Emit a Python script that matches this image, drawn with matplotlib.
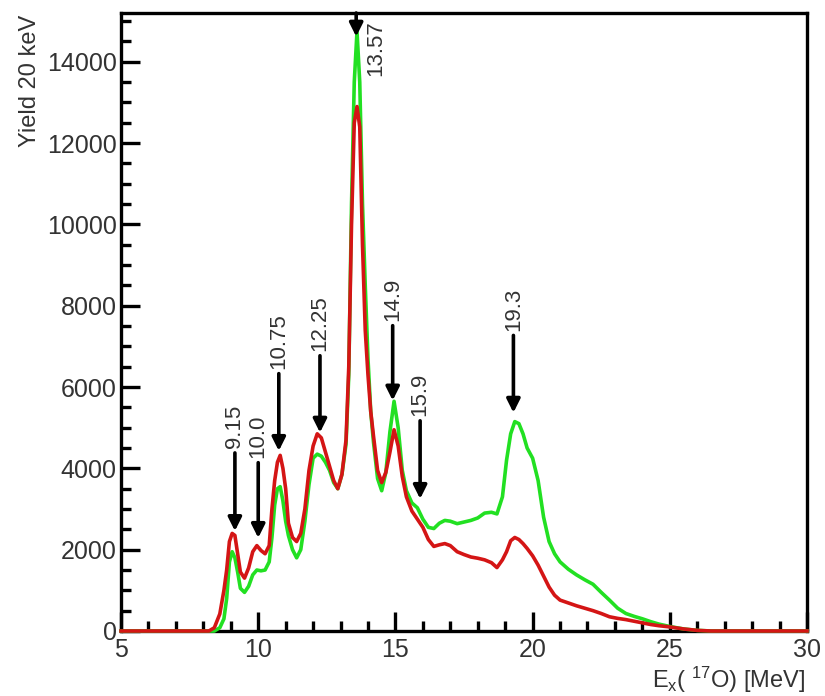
import matplotlib

matplotlib.use("Agg")
import matplotlib.pyplot as plt
from matplotlib.ticker import MultipleLocator

plt.rcParams["font.family"] = ["Liberation Sans", "DejaVu Sans"]
plt.rcParams["mathtext.default"] = "regular"

# excitation energy grid (MeV), shared by both spectra
ex_mev = [
    5.0, 8.2, 8.4, 8.6, 8.75, 8.85, 8.95, 9.05, 9.15, 9.25, 9.35, 9.5, 9.65, 9.8,
    9.95, 10.1, 10.25, 10.4, 10.5, 10.6, 10.7, 10.8, 10.9, 11.0, 11.1, 11.25,
    11.4, 11.55, 11.7, 11.85, 12.0, 12.15, 12.3, 12.45, 12.6, 12.75, 12.9,
    13.05, 13.2, 13.3, 13.4, 13.5, 13.6, 13.7, 13.8, 13.9, 14.0, 14.1, 14.2,
    14.35, 14.5, 14.65, 14.8, 14.95, 15.1, 15.25, 15.4, 15.6, 15.8, 16.0, 16.2,
    16.4, 16.6, 16.8, 17.0, 17.25, 17.5, 17.75, 18.0, 18.25, 18.5, 18.7, 18.9,
    19.05, 19.2, 19.35, 19.5, 19.65, 19.8, 20.0, 20.2, 20.4, 20.6, 20.8, 21.0,
    21.3, 21.6, 21.9, 22.2, 22.5, 22.8, 23.1, 23.4, 23.7, 24.0, 24.3, 24.6,
    25.0, 25.5, 26.0, 26.5, 30.0,
]

yield_green = [
    0, 0, 0, 80, 300, 800, 1700, 1950, 1800, 1450, 1050, 950, 1100, 1380,
    1500, 1480, 1500, 1700, 2300, 3100, 3500, 3550, 3200, 2700, 2350, 2000,
    1800, 2000, 2700, 3600, 4250, 4350, 4300, 4150, 3950, 3650, 3500,
    3850, 4600, 6300, 10500, 13500, 14750, 13500, 10500, 8500, 6700, 5400, 4650,
    3750, 3450, 3900, 4900, 5650, 5000, 3950, 3450, 3150, 3030, 2750, 2550,
    2520, 2650, 2720, 2700, 2640, 2680, 2720, 2780, 2900, 2920, 2880, 3300,
    4200, 4850, 5150, 5100, 4850, 4500, 4250, 3700, 2800, 2200, 1900, 1700,
    1520, 1380, 1260, 1150, 950, 760, 560, 430, 360, 300, 230, 170,
    110, 50, 15, 0, 0,
]

yield_red = [
    0, 0, 80, 420, 1000, 1500, 2200, 2400, 2350, 1900, 1450, 1300, 1550, 1950,
    2100, 1980, 1900, 2100, 3000, 3700, 4150, 4320, 4000, 3500, 2650, 2300,
    2200, 2400, 3000, 3950, 4550, 4850, 4750, 4400, 4050, 3700, 3500,
    3850, 4700, 6500, 10000, 12500, 12900, 12400, 9500, 7400, 6300, 5400, 4800,
    3950, 3650, 3900, 4400, 4950, 4550, 3800, 3300, 2950, 2750, 2550, 2250,
    2080, 2120, 2150, 2100, 1950, 1880, 1820, 1790, 1750, 1680, 1560, 1750,
    1950, 2220, 2300, 2250, 2150, 2030, 1850, 1620, 1350, 1080, 880, 760,
    690, 620, 560, 500, 430, 350, 310, 280, 240, 200, 160, 130,
    100, 50, 15, 0, 0,
]

# marked states: label, arrow tip and tail heights (counts)
state_labels = ["9.15", "10.0", "10.75", "12.25", "13.57", "14.9", "15.9", "19.3"]
arrow_tip = [2460, 2290, 4430, 4880, 14620, 5670, 3250, 5370]
arrow_tail = [4380, 4140, 6330, 6770, 15200, 7510, 5170, 7270]

TEXT = "#333333"

fig = plt.figure(figsize=(8.25, 6.96), dpi=100)
ax = fig.add_axes([0.1467, 0.0934, 0.8315, 0.8879])

ax.plot(ex_mev, yield_green, color="#22e022", lw=2.6, zorder=3, clip_on=False)
ax.plot(ex_mev, yield_red, color="#d41515", lw=2.6, zorder=4, clip_on=False)

for lab, tip, tail in zip(state_labels, arrow_tip, arrow_tail):
    x = float(lab)
    ax.annotate(
        "",
        xy=(x, tip),
        xytext=(x, tail),
        arrowprops=dict(arrowstyle="-|>", color="black", lw=2.6, mutation_scale=20,
                        shrinkA=0, shrinkB=0),
        annotation_clip=False,
        zorder=5,
    )
    if lab == "13.57":
        # the main peak's label sits beside its arrow, under the frame
        ax.text(14.27, 15030, lab, rotation=90, ha="center", va="top",
                fontsize=16, color=TEXT, zorder=6)
    else:
        ax.text(x, tail + 110, lab, rotation=90, ha="center", va="bottom",
                fontsize=16, color=TEXT, zorder=6)

ax.set_xlim(5, 30)
ax.set_ylim(0, 15200)
ax.xaxis.set_major_locator(MultipleLocator(5))
ax.xaxis.set_minor_locator(MultipleLocator(1))
ax.yaxis.set_major_locator(MultipleLocator(2000))
ax.yaxis.set_minor_locator(MultipleLocator(500))

for side in ax.spines.values():
    side.set_linewidth(2.4)
    side.set_color("black")

ax.tick_params(which="both", direction="in", top=False, right=False, width=2.4,
               colors="black", labelcolor=TEXT, labelsize=18)
ax.tick_params(which="major", length=14)
ax.tick_params(which="minor", length=7)
ax.tick_params(axis="x", pad=5)
ax.tick_params(axis="y", pad=3)

fig.text(30 / 825, 1 - 15 / 696, "Yield 20 keV", rotation=90, ha="center", va="top",
         fontsize=17, color=TEXT)
fig.text(805 / 825, 1 - 680 / 696, "E$_{x}$( $^{17}$O) [MeV]", ha="right", va="center",
         fontsize=17, color=TEXT)

fig.savefig("out.png", dpi=100)
